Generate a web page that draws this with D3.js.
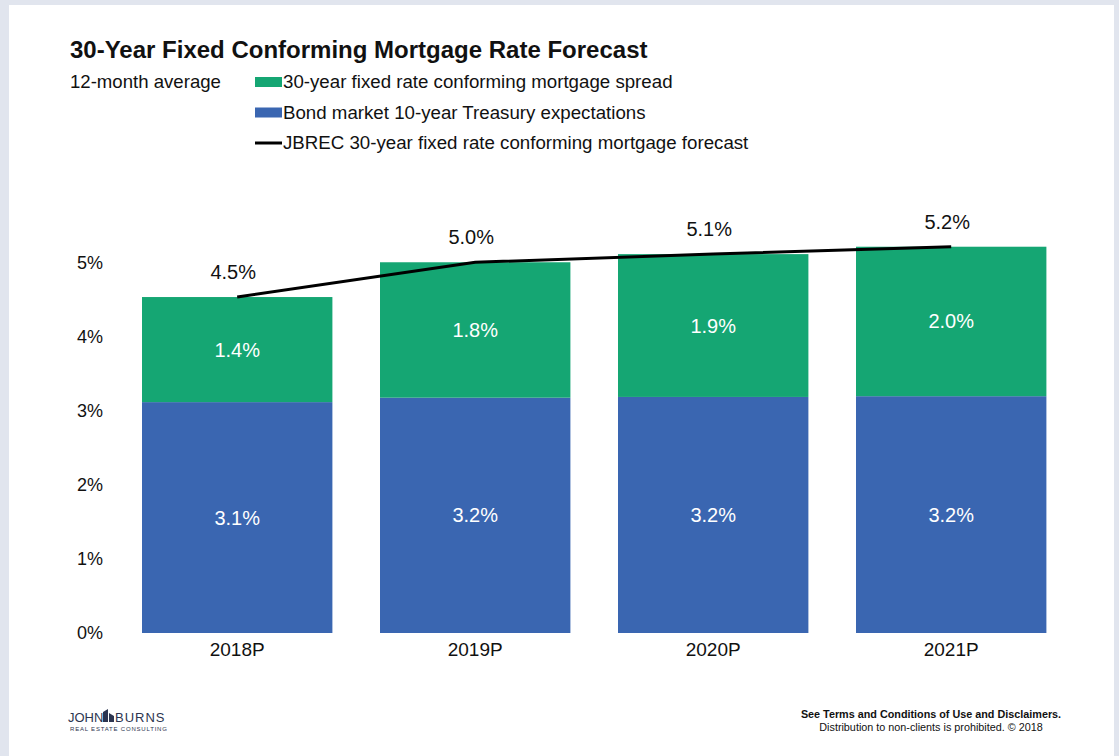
<!DOCTYPE html>
<html>
<head>
<meta charset="utf-8">
<script src="https://cdn.jsdelivr.net/npm/d3@7"></script>
<style>
  body { margin: 0; background: #e1e5ee; }
  svg { display: block; font-family: "Liberation Sans", Arial, sans-serif; }
</style>
</head>
<body>
<div id="my_dataviz"></div>
<script>
// data
var years = ["2018P", "2019P", "2020P", "2021P"];
var treasury = [3.12, 3.18, 3.19, 3.2];   // Bond market 10-year Treasury expectations
var spread = [1.42, 1.83, 1.93, 2.02];    // 30-year fixed rate conforming mortgage spread
var forecast = years.map(function(d, i) { return treasury[i] + spread[i]; });
var yTicks = [0, 1, 2, 3, 4, 5];

var legendItems = [
  {label: "30-year fixed rate conforming mortgage spread", type: "rect", color: "#15a673"},
  {label: "Bond market 10-year Treasury expectations", type: "rect", color: "#3a66b1"},
  {label: "JBREC 30-year fixed rate conforming mortgage forecast", type: "line", color: "#000"}
];

var W = 1119, H = 756;

var svg = d3.select("#my_dataviz")
  .append("svg")
    .attr("width", W)
    .attr("height", H);

// white panel on the grey page
svg.append("rect")
  .attr("x", 9).attr("y", 5)
  .attr("width", 1105).attr("height", H - 5)
  .attr("fill", "#fff");

// title
svg.append("text")
  .attr("x", 70).attr("y", 58)
  .style("font-size", "24px")
  .style("font-weight", "bold")
  .attr("fill", "#111")
  .text("30-Year Fixed Conforming Mortgage Rate Forecast");

svg.append("text")
  .attr("x", 70).attr("y", 88)
  .style("font-size", "18.6px")
  .attr("fill", "#111")
  .text("12-month average");

// legend
var legend = svg.append("g");
legendItems.forEach(function(d, i) {
  var cy = 82 + i * 30.5;
  if (d.type == "rect") {
    legend.append("rect")
      .attr("x", 255).attr("y", cy - 5)
      .attr("width", 27).attr("height", 10)
      .attr("fill", d.color);
  } else {
    legend.append("line")
      .attr("x1", 255).attr("x2", 282)
      .attr("y1", cy).attr("y2", cy)
      .attr("stroke", d.color)
      .attr("stroke-width", 3);
  }
  legend.append("text")
    .attr("x", 283).attr("y", cy + 6)
    .style("font-size", "18.7px")
    .attr("fill", "#111")
    .text(d.label);
});

// scales
var x = d3.scaleBand()
  .domain(years)
  .range([118.2, 1070.2])
  .paddingInner(0.2)
  .paddingOuter(0.1);

var y = d3.scaleLinear()
  .domain([0, 5])
  .range([633, 263]);

// Y axis (labels only)
var yaxis = svg.append("g")
  .attr("transform", "translate(103,0)")
  .call(d3.axisLeft(y).tickValues(yTicks).tickSize(0).tickPadding(0)
    .tickFormat(function(d) { return d + "%"; }));
yaxis.select(".domain").remove();
yaxis.selectAll("text")
  .style("font-size", "18px")
  .style("font-family", "Liberation Sans, Arial, sans-serif")
  .attr("fill", "#111");

// X axis (labels only)
var xaxis = svg.append("g")
  .attr("transform", "translate(0,633)")
  .call(d3.axisBottom(x).tickSize(0).tickPadding(10));
xaxis.select(".domain").remove();
xaxis.selectAll("text")
  .style("font-size", "19px")
  .style("font-family", "Liberation Sans, Arial, sans-serif")
  .attr("fill", "#111");

// stacked bars
var rows = years.map(function(d, i) {
  return {year: d, treasury: treasury[i], spread: spread[i], total: forecast[i]};
});

svg.append("g").selectAll("rect")
  .data(rows)
  .enter()
  .append("rect")
    .attr("x", function(d) { return x(d.year); })
    .attr("y", function(d) { return y(d.treasury); })
    .attr("width", x.bandwidth())
    .attr("height", function(d) { return y(0) - y(d.treasury); })
    .attr("fill", "#3a66b1");

svg.append("g").selectAll("rect")
  .data(rows)
  .enter()
  .append("rect")
    .attr("x", function(d) { return x(d.year); })
    .attr("y", function(d) { return y(d.total); })
    .attr("width", x.bandwidth())
    .attr("height", function(d) { return y(d.treasury) - y(d.total); })
    .attr("fill", "#15a673");

// segment labels
var seg = svg.append("g")
  .style("font-size", "20px")
  .attr("fill", "#fff")
  .attr("text-anchor", "middle");
rows.forEach(function(d) {
  var cx = x(d.year) + x.bandwidth() / 2;
  seg.append("text")
    .attr("x", cx).attr("y", (y(0) + y(d.treasury)) / 2 + 7)
    .text(d.treasury.toFixed(1) + "%");
  seg.append("text")
    .attr("x", cx).attr("y", (y(d.treasury) + y(d.total)) / 2 + 7)
    .text(d.spread.toFixed(1) + "%");
});

// forecast line
svg.append("path")
  .datum(rows)
  .attr("d", d3.line()
    .x(function(d) { return x(d.year) + x.bandwidth() / 2; })
    .y(function(d) { return y(d.total); }))
  .attr("stroke", "#000")
  .attr("stroke-width", 3)
  .attr("fill", "none");

svg.append("g").selectAll("text")
  .data(rows)
  .enter()
  .append("text")
    .attr("x", function(d) { return x(d.year) + x.bandwidth() / 2 - 4; })
    .attr("y", function(d) { return y(d.total) - 18; })
    .attr("text-anchor", "middle")
    .style("font-size", "20px")
    .attr("fill", "#111")
    .text(function(d) { return d.total.toFixed(1) + "%"; });

// footer logo
var logo = svg.append("g").attr("fill", "#2d3550");
logo.append("text")
  .attr("x", 68).attr("y", 722)
  .style("font-size", "13px")
  .text("JOHN");
logo.append("path")
  .attr("d", "M103,722 L103,712 L108,709 L108,722 Z M109,722 L109,713 L114,716 L114,722 Z");
logo.append("text")
  .attr("x", 115).attr("y", 722)
  .style("font-size", "13px")
  .style("letter-spacing", "1px")
  .text("BURNS");
logo.append("text")
  .attr("x", 70).attr("y", 731)
  .style("font-size", "6px")
  .style("letter-spacing", "0.8px")
  .text("REAL ESTATE CONSULTING");

// footer note
var note = svg.append("g")
  .attr("text-anchor", "middle")
  .attr("fill", "#111")
  .style("font-size", "10.8px");
note.append("text")
  .attr("x", 931).attr("y", 718)
  .style("font-weight", "bold")
  .text("See Terms and Conditions of Use and Disclaimers.");
note.append("text")
  .attr("x", 931).attr("y", 731)
  .text("Distribution to non-clients is prohibited. \u00a9 2018");
</script>
</body>
</html>
